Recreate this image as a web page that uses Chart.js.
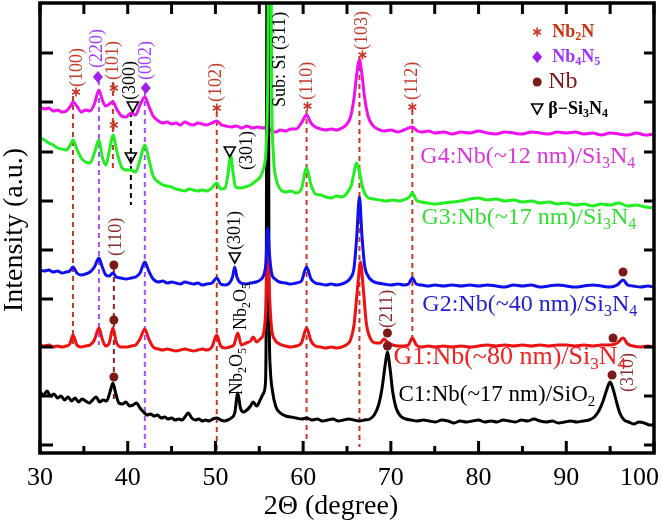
<!DOCTYPE html>
<html>
<head>
<meta charset="utf-8">
<script src="https://cdn.jsdelivr.net/npm/chart.js@4.4.0/dist/chart.umd.min.js"></script>
<style>
  body { margin: 0; background: #fff; }
  canvas { display: block; }
</style>
</head>
<body>
<canvas id="xrd" width="662" height="527"></canvas>
<script>
// XRD patterns: [2theta (deg), intensity (a.u., stacked offsets)]
const g4 = [[30,346],[30.5,344],[31,345],[31.5,342],[32,343],[32.5,341],[33,342],[33.4,346],[33.76,351],[34.2,347],[34.7,341],[35.2,343],[35.7,342],[36.2,349],[36.72,363],[37.1,353],[37.5,347],[37.9,349],[38.31,351],[38.8,343],[39.3,337],[39.8,336],[40.36,340],[40.9,338],[41.4,348],[41.95,356],[42.4,347],[42.9,337],[43.5,332],[44,330],[44.5,331],[45,329],[45.5,330],[46,328],[46.5,331],[47,329],[47.5,328],[48,330],[48.5,329],[49,328],[49.6,330],[50.15,332],[50.7,328],[51.2,327],[51.8,326],[52.4,327],[53,325],[53.6,327],[54.2,325],[54.8,326],[55.4,325],[55.9,326],[56.4,322],[56.9,321],[57.4,323],[58,322],[58.6,324],[59.2,324],[59.8,330],[60.39,338],[60.9,330],[61.4,326],[62,324],[62.6,323],[63.2,324],[63.8,323],[64.4,325],[64.9,328],[65.4,336],[65.8,355],[66.1,378],[66.42,393],[66.7,379],[67,356],[67.4,337],[67.9,328],[68.5,324],[69.2,322],[70,323],[70.8,321],[71.5,323],[72,325],[72.45,326],[73,322],[73.6,321],[74.3,322],[75,320],[76,321],[77,319],[78,321],[79,320],[80,322],[81,320],[82,319],[83,321],[84,320],[85,319],[86,321],[87,320],[88,319],[89,321],[90,320],[91,321],[92,319],[93,320],[94,318],[95,320],[96,319],[97,318],[98,320],[99,318],[100,319]];
const g3 = [[30,315],[30.5,313],[31,310],[31.5,308],[32,305],[32.5,304],[33,303],[33.4,307],[33.76,313],[34.2,304],[34.7,295],[35.2,291],[35.7,290],[36.2,300],[36.72,313],[37.1,296],[37.5,288],[37.9,302],[38.31,318],[38.8,300],[39.3,286],[39.8,283],[40.36,283],[40.9,281],[41.4,293],[41.95,308],[42.4,294],[42.9,277],[43.5,271],[44,268],[44.5,267],[45,266],[45.5,264],[46,263],[46.5,262],[47,264],[47.5,263],[48,262],[48.5,263],[49,262],[49.6,265],[50.15,270],[50.6,264],[51.1,265],[51.45,280],[51.74,298],[52,281],[52.3,266],[52.8,265],[53.4,266],[54,268],[54.6,272],[55.1,276],[55.5,285],[55.8,310],[56.0,420],[56.1,700],[56.25,700],[56.4,380],[56.6,300],[56.9,275],[57.3,265],[58,261],[58.6,262],[59.2,260],[59.8,264],[60.39,285],[60.9,268],[61.4,259],[62,258],[62.6,256],[63.2,255],[63.8,257],[64.4,256],[65,260],[65.5,268],[65.8,280],[66.08,290],[66.4,282],[66.8,265],[67.3,256],[68,254],[68.8,253],[69.5,252],[70.3,253],[71,252],[71.7,254],[72.1,256],[72.45,260],[72.9,253],[73.5,251],[74.2,250],[75,249],[76,250],[77,251],[78,252],[79,254],[80,255],[81,253],[82,254],[83,252],[84,253],[85,251],[86,252],[87,250],[88,251],[89,249],[90,250],[91,248],[92,249],[93,247],[94,249],[95,248],[96,250],[97,247],[98,248],[99,246],[100,245]];
const g2 = [[30,183],[30.5,182],[31,183],[31.5,181],[32,182],[32.5,180],[33,181],[33.4,182],[33.76,186],[34.2,180],[34.7,178],[35.2,179],[35.7,181],[36.2,186],[36.72,195],[37.1,186],[37.5,178],[37.9,177],[38.31,180],[38.7,176],[39.2,175],[39.8,174],[40.4,175],[40.9,176],[41.4,180],[41.95,191],[42.4,182],[42.9,174],[43.5,171],[44,172],[44.5,170],[45,171],[45.5,170],[46,169],[46.5,171],[47,170],[47.5,169],[48,170],[48.5,168],[49,169],[49.6,170],[50.15,175],[50.6,169],[51.1,168],[51.6,170],[51.95,176],[52.2,186],[52.45,176],[52.9,170],[53.5,169],[54,170],[54.6,171],[55.1,173],[55.5,178],[55.75,190],[55.95,225],[56.15,200],[56.4,180],[56.8,174],[57.3,171],[58,170],[58.6,169],[59.2,170],[59.8,172],[60.39,186],[60.9,174],[61.4,170],[62,169],[62.6,168],[63.2,169],[63.8,168],[64.4,169],[64.9,171],[65.4,175],[65.8,185],[66.1,215],[66.42,256],[66.7,218],[67,188],[67.4,177],[67.9,172],[68.5,170],[69.2,169],[70,168],[70.8,169],[71.5,168],[72,169],[72.45,175],[72.9,169],[73.5,168],[74.3,167],[75,168],[76,167],[77,168],[78,167],[79,168],[80,167],[81,168],[82,167],[83,166],[84,168],[85,167],[86,168],[87,166],[88,167],[89,168],[90,167],[91,166],[92,167],[93,168],[94,167],[95,166],[95.8,168],[96.47,173],[97,168],[97.6,167],[98.5,166],[99.3,167],[100,166]];
const g1 = [[30,108],[30.5,107],[31,108],[31.5,106],[32,107],[32.5,106],[33,107],[33.4,109],[33.76,118],[34.2,108],[34.7,106],[35.2,107],[35.7,108],[36.2,113],[36.72,125],[37.1,114],[37.5,107],[37.9,110],[38.31,125],[38.7,111],[39.2,106],[39.8,106],[40.4,107],[40.9,108],[41.4,114],[41.95,124],[42.4,114],[42.9,106],[43.5,104],[44,103],[44.5,104],[45,103],[45.5,102],[46,103],[46.5,104],[47,103],[47.5,102],[48,103],[48.5,104],[49,103],[49.6,106],[50.15,118],[50.6,107],[51.1,105],[51.6,106],[52.1,108],[52.55,120],[52.95,108],[53.5,110],[54,112],[54.3,116],[54.7,111],[55.1,114],[55.5,120],[55.75,145],[55.95,203],[56.15,160],[56.4,125],[56.8,113],[57.3,109],[58,107],[58.6,106],[59.2,107],[59.8,110],[60.39,125],[60.9,112],[61.4,107],[62,106],[62.6,105],[63.2,106],[63.8,105],[64.4,106],[64.9,108],[65.4,113],[65.8,128],[66.2,165],[66.54,191],[66.85,165],[67.2,130],[67.7,114],[68.3,110],[68.8,110],[69.2,114],[69.6,111],[70.2,108],[70.9,107],[71.5,107],[72,108],[72.45,115],[72.9,108],[73.5,106],[74.3,107],[75,106],[76,107],[77,106],[78,107],[79,106],[80,107],[81,108],[82,107],[83,108],[84,107],[85,108],[86,107],[87,108],[88,107],[89,108],[90,108],[91,107],[92,108],[93,107],[94,108],[95,108],[95.8,110],[96.47,115],[97,109],[97.6,107],[98.5,106],[99.3,107],[100,106]];
const c1 = [[30,61],[30.4,58],[30.8,62],[31.2,57],[31.6,59],[32,55],[32.4,57],[32.8,53],[33.2,56],[33.6,52],[34,55],[34.4,51],[34.8,54],[35.2,52],[35.6,50],[36,53],[36.4,56],[36.8,51],[37.2,53],[37.6,52],[37.95,60],[38.31,70],[38.65,59],[39,50],[39.4,49],[39.8,51],[40.2,47],[40.6,48],[41,50],[41.4,45],[41.8,41],[42.2,38],[42.6,39],[43,37],[43.4,38],[43.8,35],[44.2,36],[44.6,34],[45,35],[45.4,33],[45.8,34],[46.2,33],[46.6,37],[46.9,40],[47.3,35],[47.7,33],[48.1,34],[48.5,32],[48.9,33],[49.3,32],[49.7,34],[50.15,35],[50.6,33],[51,32],[51.4,33],[51.8,35],[52.2,40],[52.55,60],[52.85,45],[53.2,41],[53.6,43],[54,47],[54.3,51],[54.7,47],[55.1,53],[55.5,60],[55.7,70],[55.8,160],[55.9,700],[56.0,700],[56.1,170],[56.25,85],[56.5,62],[56.9,46],[57.4,40],[58,37],[58.6,36],[59.2,35],[59.8,34],[60.4,35],[61,33],[61.6,34],[62.2,32],[62.8,33],[63.4,34],[64,32],[64.6,33],[65.2,34],[65.8,33],[66.4,32],[67,33],[67.6,34],[68.1,38],[68.6,48],[69,65],[69.35,88],[69.6,101],[69.9,85],[70.2,62],[70.6,45],[71.1,37],[71.7,34],[72.3,33],[73,32],[73.7,33],[74.4,32],[75.1,31],[75.8,33],[76.5,32],[77.2,30],[77.9,32],[78.6,31],[79.3,32],[80,33],[80.7,31],[81.4,32],[82.1,31],[82.8,33],[83.5,32],[84.2,31],[84.9,33],[85.6,32],[86.3,34],[87,32],[87.7,31],[88.4,32],[89.1,30],[89.8,31],[90.5,32],[91.2,31],[91.9,32],[92.6,33],[93.2,36],[93.7,42],[94.2,52],[94.6,63],[94.99,71],[95.3,65],[95.7,52],[96.1,40],[96.6,33],[97.1,31],[97.7,29],[98.3,31],[98.9,30],[99.5,28],[100,28]];

const xMajorTicks = [30, 40, 50, 60, 70, 80, 90, 100];
const xMinorTicks = [35, 45, 55, 65, 75, 85, 95];
const yTicks = [8, 57, 106, 154, 203, 252, 301, 351, 400];

// dashed reference lines: [2theta, from, to]
const nb2nLines = [[33.76,357,106],[38.31,371,281],[50.15,341,0],[60.39,343,11],[66.42,396,6],[72.45,343,113]];
const nb4n5Lines = [[36.72,373,108],[41.95,361,0]];
const si3n4Lines = [[40.36,341,248]];
const nbLines = [[38.42,185,53]];

// peak markers: [2theta, intensity]
const nb2nMarks = [[34.10,361],[38.42,365],[38.42,328],[50.15,345],[60.50,347],[66.76,398],[72.45,346]];
const nb4n5Marks = [[36.60,376],[42.06,365]];
const si3n4Marks = [[40.58,346],[40.36,295],[51.63,301],[52.20,195]];
const nbMarks = [[38.42,188],[38.42,133],[38.42,76],[69.61,120],[69.61,107],[96.47,181],[95.33,115],[95.22,78]];

// rotated labels: [text, 2theta, intensity at text start, colour]
const peakLabels = [
  ['(100)', 34.21, 366, '#c43a2a'],
  ['(220)', 36.49, 385, '#a040ff'],
  ['(101)', 38.31, 373, '#c43a2a'],
  ['(300)', 40.24, 353, '#000'],
  ['(002)', 42.06, 373, '#a040ff'],
  ['(102)', 50.15, 351, '#c43a2a'],
  ['(301)', 53.67, 283, '#000'],
  ['Sub: Si (311)', 57.43, 346, '#000'],
  ['(110)', 60.50, 353, '#c43a2a'],
  ['(103)', 66.76, 403, '#c43a2a'],
  ['(112)', 72.45, 353, '#c43a2a'],
  ['(301)', 52.31, 203, '#000'],
  ['(110)', 38.65, 197, '#8b2a2a'],
  ['Nb_2O_5', 52.99, 123, '#000'],
  ['Nb_2O_5', 52.54, 58, '#000'],
  ['(211)', 69.61, 125, '#8b2a2a'],
  ['(310)', 97.04, 61, '#8b2a2a']
];

// sample labels: [text, 2theta start, intensity, colour, size]
const sampleLabels = [
  ['G4:Nb(~12 nm)/Si_3N_4', 73.36, 296, '#dd33dd', 24],
  ['G3:Nb(~17 nm)/Si_3N_4', 73.48, 235, '#33dd33', 24],
  ['G2:Nb(~40 nm)/Si_3N_4', 73.59, 148, '#2222cc', 24],
  ['G1:Nb(~80 nm)/Si_3N_4', 70.29, 96, '#ee2222', 26],
  ['C1:Nb(~17 nm)/SiO_2', 70.86, 58, '#000', 23]
];

const FONT = '"Liberation Serif", "Times New Roman", serif';

function richParts(str) {
  const parts = [];
  for (let i = 0; i < str.length; i++) {
    if (str[i] === '_') { parts.push({ t: str[i + 1], sub: true }); i++; }
    else if (parts.length && !parts[parts.length - 1].sub) parts[parts.length - 1].t += str[i];
    else parts.push({ t: str[i], sub: false });
  }
  return parts;
}

function drawRich(ctx, str, x, y, size, weight, align) {
  const parts = richParts(str);
  const big = weight + ' ' + size + 'px ' + FONT;
  const small = weight + ' ' + Math.round(size * 0.65) + 'px ' + FONT;
  let w = 0;
  parts.forEach(p => { ctx.font = p.sub ? small : big; w += ctx.measureText(p.t).width; });
  let cx = align === 'center' ? x - w / 2 : x;
  ctx.textAlign = 'left';
  ctx.textBaseline = 'middle';
  parts.forEach(p => {
    ctx.font = p.sub ? small : big;
    ctx.fillText(p.t, cx, p.sub ? y + size * 0.3 : y);
    cx += ctx.measureText(p.t).width;
  });
}

function star(ctx, x, y, c) {
  ctx.strokeStyle = c; ctx.lineWidth = 1.6;
  for (let k = 0; k < 3; k++) {
    const a = Math.PI / 2 + k * Math.PI / 3;
    ctx.beginPath();
    ctx.moveTo(x - 4.5 * Math.cos(a), y - 4.5 * Math.sin(a));
    ctx.lineTo(x + 4.5 * Math.cos(a), y + 4.5 * Math.sin(a));
    ctx.stroke();
  }
}
function diamond(ctx, x, y) {
  ctx.fillStyle = '#a020f0';
  ctx.beginPath(); ctx.moveTo(x, y - 6); ctx.lineTo(x + 5, y); ctx.lineTo(x, y + 6); ctx.lineTo(x - 5, y); ctx.closePath(); ctx.fill();
}
function dot(ctx, x, y) {
  ctx.fillStyle = '#7a1a1a';
  ctx.beginPath(); ctx.arc(x, y, 4.5, 0, Math.PI * 2); ctx.fill();
}
function tri(ctx, x, y) {
  ctx.strokeStyle = '#000'; ctx.lineWidth = 1.6;
  ctx.beginPath(); ctx.moveTo(x - 5.5, y - 5); ctx.lineTo(x + 5.5, y - 5); ctx.lineTo(x, y + 5); ctx.closePath(); ctx.stroke();
}

const decor = {
  id: 'decor',
  beforeDatasetsDraw(chart) {
    const { ctx, scales: { x, y } } = chart;
    ctx.save();
    ctx.lineWidth = 2;
    ctx.setLineDash([5, 4]);
    const groups = [[nb2nLines, '#c43a2a'], [nb4n5Lines, '#a64dff'], [si3n4Lines, '#000'], [nbLines, '#8b2323']];
    groups.forEach(([lines, col]) => {
      ctx.strokeStyle = col;
      lines.forEach(([d, a, b]) => {
        const px = x.getPixelForValue(d);
        ctx.beginPath(); ctx.moveTo(px, y.getPixelForValue(a)); ctx.lineTo(px, y.getPixelForValue(b)); ctx.stroke();
      });
    });
    ctx.restore();
  },
  afterDatasetsDraw(chart) {
    const { ctx, chartArea: ca, scales: { x, y } } = chart;
    ctx.save();
    // markers
    nb2nMarks.forEach(([d, v]) => star(ctx, x.getPixelForValue(d), y.getPixelForValue(v), '#cc3322'));
    nb4n5Marks.forEach(([d, v]) => diamond(ctx, x.getPixelForValue(d), y.getPixelForValue(v)));
    si3n4Marks.forEach(([d, v]) => tri(ctx, x.getPixelForValue(d), y.getPixelForValue(v)));
    nbMarks.forEach(([d, v]) => dot(ctx, x.getPixelForValue(d), y.getPixelForValue(v)));

    // rotated peak labels
    peakLabels.forEach(([t, d, v, col]) => {
      ctx.save();
      ctx.translate(x.getPixelForValue(d), y.getPixelForValue(v));
      ctx.rotate(-Math.PI / 2);
      ctx.fillStyle = col;
      drawRich(ctx, t, 0, 0, 18, 'normal', 'left');
      ctx.restore();
    });

    // sample labels
    sampleLabels.forEach(([t, d, v, col, s]) => {
      ctx.fillStyle = col;
      drawRich(ctx, t, x.getPixelForValue(d), y.getPixelForValue(v), s, 'normal', 'left');
    });

    // phase key
    const kx = x.getPixelForValue(86.68), tx = x.getPixelForValue(88.39);
    star(ctx, kx, y.getPixelForValue(421), '#cc3322');
    ctx.fillStyle = '#cc3311'; drawRich(ctx, 'Nb_2N', tx, y.getPixelForValue(421), 18, 'bold', 'left');
    diamond(ctx, kx, y.getPixelForValue(396));
    ctx.fillStyle = '#a033ff'; drawRich(ctx, 'Nb_4N_5', tx, y.getPixelForValue(396), 18, 'bold', 'left');
    dot(ctx, kx, y.getPixelForValue(371));
    ctx.fillStyle = '#7a1a1a'; drawRich(ctx, 'Nb', tx - 4, y.getPixelForValue(371), 24, 'normal', 'left');
    tri(ctx, kx, y.getPixelForValue(344));
    ctx.fillStyle = '#000'; drawRich(ctx, 'β−Si_3N_4', tx - 4, y.getPixelForValue(344), 18, 'bold', 'left');

    // frame and inward ticks
    ctx.strokeStyle = '#000';
    ctx.lineWidth = 3.5;
    ctx.strokeRect(ca.left, ca.top, ca.right - ca.left, ca.bottom - ca.top);
    ctx.lineWidth = 3;
    const tick = (x0, y0, x1, y1) => { ctx.beginPath(); ctx.moveTo(x0, y0); ctx.lineTo(x1, y1); ctx.stroke(); };
    xMajorTicks.forEach(v => { const p = x.getPixelForValue(v); tick(p, ca.bottom, p, ca.bottom - 12); tick(p, ca.top, p, ca.top + 11); });
    xMinorTicks.forEach(v => { const p = x.getPixelForValue(v); tick(p, ca.bottom, p, ca.bottom - 7); tick(p, ca.top, p, ca.top + 11); });
    yTicks.forEach(v => { const p = y.getPixelForValue(v); tick(ca.left, p, ca.left + 13, p); tick(ca.right, p, ca.right - 10, p); });

    // tick labels and titles
    ctx.fillStyle = '#000';
    ctx.font = '26px ' + FONT;
    ctx.textAlign = 'center';
    ctx.textBaseline = 'middle';
    xMajorTicks.forEach(v => {
      const w = ctx.measureText(String(v)).width;
      const p = Math.min(x.getPixelForValue(v), chart.width - w / 2 - 3);
      ctx.fillText(String(v), p, ca.bottom + 25);
    });
    ctx.font = '28px ' + FONT;
    ctx.fillText('2Θ (degree)', 331, ca.bottom + 54);
    ctx.save();
    ctx.translate(15, 230);
    ctx.rotate(-Math.PI / 2);
    ctx.fillText('Intensity (a.u.)', 0, 0);
    ctx.restore();
    ctx.restore();
  }
};

const line = (data, col) => ({
  data: data.map(p => ({ x: p[0], y: p[1] })),
  borderColor: col,
  borderWidth: 3,
  pointRadius: 0,
  cubicInterpolationMode: 'monotone'
});

new Chart(document.getElementById('xrd'), {
  type: 'line',
  data: {
    datasets: [
      line(g3, '#22ee22'),
      line(g2, '#1010ee'),
      line(g1, '#ee1111'),
      line(c1, '#000000'),
      line(g4, '#ee11ee')
    ]
  },
  options: {
    responsive: false,
    animation: false,
    layout: { padding: { left: 40, right: 8, top: 3, bottom: 74 } },
    plugins: { legend: { display: false }, tooltip: { enabled: false } },
    scales: {
      x: { type: 'linear', min: 30, max: 100, display: false },
      y: { type: 'linear', min: 0, max: 450, display: false }
    }
  },
  plugins: [decor]
});
</script>
</body>
</html>
